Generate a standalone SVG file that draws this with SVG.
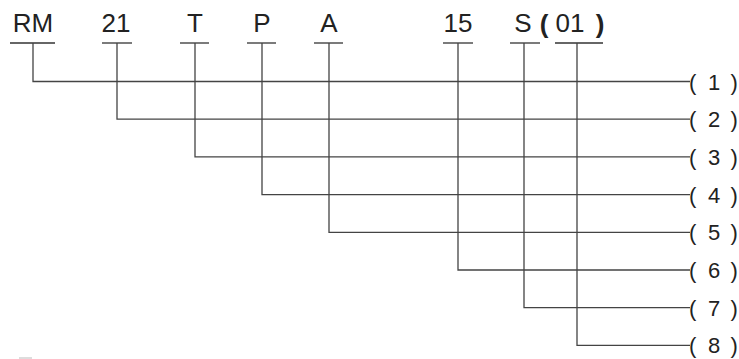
<svg xmlns="http://www.w3.org/2000/svg" width="739" height="359" viewBox="0 0 739 359">
<style>
.code{font-family:"Liberation Sans",Arial,sans-serif;font-size:26px;fill:#222;text-anchor:middle}
.lbl{font-family:"Liberation Sans",Arial,sans-serif;font-size:22px;fill:#222}
.ul{stroke:#333;stroke-width:1.3;fill:none}
.ln{stroke:#444;stroke-width:1.3;fill:none}
</style>
<rect width="739" height="359" fill="#fff"/>
<g id="code-RM"><text class="code" x="33" y="32">RM</text><line class="ul" x1="10" y1="43" x2="55" y2="43"/></g>
<g id="code-21"><text class="code" x="116" y="32">21</text><line class="ul" x1="102" y1="43" x2="132" y2="43"/></g>
<g id="code-T"><text class="code" x="195" y="32">T</text><line class="ul" x1="180" y1="43" x2="209" y2="43"/></g>
<g id="code-P"><text class="code" x="262" y="32">P</text><line class="ul" x1="247" y1="43" x2="276" y2="43"/></g>
<g id="code-A"><text class="code" x="329" y="32">A</text><line class="ul" x1="314" y1="43" x2="343" y2="43"/></g>
<g id="code-15"><text class="code" x="458" y="32">15</text><line class="ul" x1="443" y1="43" x2="473" y2="43"/></g>
<g id="code-S"><text class="code" x="523" y="32">S</text><line class="ul" x1="510" y1="43" x2="540" y2="43"/></g>
<g id="code-01"><text class="code" x="544" y="33" font-weight="bold" font-size="28">(</text><text class="code" x="570" y="32">01</text><text class="code" x="600" y="33" font-weight="bold" font-size="28">)</text><line class="ul" x1="555" y1="43" x2="603" y2="43"/></g>
<g id="connectors">
<polyline class="ln" points="33,43 33,81.5 690,81.5"/>
<polyline class="ln" points="117,43 117,119.2 690,119.2"/>
<polyline class="ln" points="195,43 195,156.9 690,156.9"/>
<polyline class="ln" points="262,43 262,194.6 690,194.6"/>
<polyline class="ln" points="329,43 329,232.3 690,232.3"/>
<polyline class="ln" points="458,43 458,270 690,270"/>
<polyline class="ln" points="524,43 524,307.7 690,307.7"/>
<polyline class="ln" points="577,43 577,345.4 690,345.4"/>
</g>
<g id="label-1"><text class="lbl" x="689" y="89.5">(</text><text class="lbl" x="714" y="89.5" text-anchor="middle">1</text><text class="lbl" x="730.5" y="89.5">)</text></g>
<g id="label-2"><text class="lbl" x="689" y="127.2">(</text><text class="lbl" x="714" y="127.2" text-anchor="middle">2</text><text class="lbl" x="730.5" y="127.2">)</text></g>
<g id="label-3"><text class="lbl" x="689" y="164.9">(</text><text class="lbl" x="714" y="164.9" text-anchor="middle">3</text><text class="lbl" x="730.5" y="164.9">)</text></g>
<g id="label-4"><text class="lbl" x="689" y="202.6">(</text><text class="lbl" x="714" y="202.6" text-anchor="middle">4</text><text class="lbl" x="730.5" y="202.6">)</text></g>
<g id="label-5"><text class="lbl" x="689" y="240.3">(</text><text class="lbl" x="714" y="240.3" text-anchor="middle">5</text><text class="lbl" x="730.5" y="240.3">)</text></g>
<g id="label-6"><text class="lbl" x="689" y="278">(</text><text class="lbl" x="714" y="278" text-anchor="middle">6</text><text class="lbl" x="730.5" y="278">)</text></g>
<g id="label-7"><text class="lbl" x="689" y="315.7">(</text><text class="lbl" x="714" y="315.7" text-anchor="middle">7</text><text class="lbl" x="730.5" y="315.7">)</text></g>
<g id="label-8"><text class="lbl" x="689" y="353.4">(</text><text class="lbl" x="714" y="353.4" text-anchor="middle">8</text><text class="lbl" x="730.5" y="353.4">)</text></g>
<line x1="19" y1="358" x2="32" y2="358" stroke="#bbb" stroke-width="1"/>
</svg>
